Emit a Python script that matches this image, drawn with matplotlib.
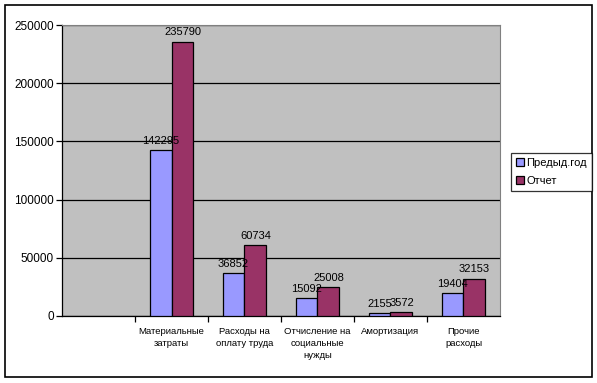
import numpy as np
import matplotlib.pyplot as plt
from matplotlib.patches import Rectangle

plt.rcParams['font.family'] = ['Liberation Sans', 'DejaVu Sans']

categories = ['', 'Материальные\nзатраты', 'Расходы на\nоплату труда',
              'Отчисление на\nсоциальные\nнужды', 'Амортизация', 'Прочие\nрасходы']
prev_year = [np.nan, 142295, 36852, 15092, 2155, 19404]
report = [np.nan, 235790, 60734, 25008, 3572, 32153]
series_names = ['Предыд.год', 'Отчет']

W, H = 597, 383
fig = plt.figure(figsize=(W / 100, H / 100), dpi=100)
# outer chart border
fig.patches.append(Rectangle((5 / W, 1 - 377 / H), 587 / W, 372 / H,
                             transform=fig.transFigure, fill=False,
                             edgecolor='black', lw=1.2))

ax = fig.add_axes([62 / W, 1 - 316 / H, 438 / W, 291 / H])
ax.set_facecolor('#C0C0C0')
x = np.arange(len(categories))
bw = 0.3
b1 = ax.bar(x - bw / 2, prev_year, bw, color='#9999FF', edgecolor='black', lw=0.9,
            label=series_names[0], zorder=3)
b2 = ax.bar(x + bw / 2, report, bw, color='#993366', edgecolor='black', lw=0.9,
            label=series_names[1], zorder=3)
for bars, vals in ((b1, prev_year), (b2, report)):
    for r, v in zip(bars, vals):
        if np.isnan(v):
            continue
        ax.text(r.get_x() + r.get_width() / 2, v + 3500, str(v), ha='center',
                va='bottom', fontsize=8, zorder=4)

ax.set_xlim(-0.5, len(categories) - 0.5)
ax.set_ylim(0, 250000)
ax.set_yticks(np.arange(0, 250001, 50000))
ax.yaxis.grid(True, color='black', lw=0.9, zorder=1)
# tick marks between categories, labels centred in each slot
ax.set_xticks(x[1:] - 0.5)
ax.set_xticklabels([])
ax.set_xticks(x, minor=True)
ax.set_xticklabels(categories, minor=True, fontsize=6.8, linespacing=1.45)
ax.tick_params(axis='x', which='minor', length=0, pad=8)
ax.tick_params(axis='x', which='major', length=4, width=0.9, direction='out')
ax.tick_params(axis='y', length=4, width=0.9, labelsize=8.5, pad=2)
for s in ['top', 'right']:
    ax.spines[s].set_color('#808080')
ax.spines['left'].set_linewidth(0.9)
ax.spines['bottom'].set_linewidth(0.9)

leg = fig.legend(loc='upper left', bbox_to_anchor=(511 / W, 1 - 153 / H),
                 fontsize=8, frameon=True, fancybox=False, edgecolor='black',
                 handlelength=0.7, handleheight=0.7, handletextpad=0.25,
                 borderpad=0.45, labelspacing=0.7, borderaxespad=0)
leg.get_frame().set_linewidth(0.9)

fig.savefig('out.png', dpi=100)
